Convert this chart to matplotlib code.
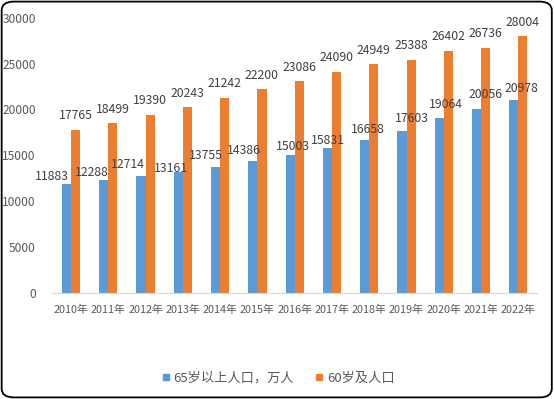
import numpy as np
import matplotlib
matplotlib.use('Agg')
import matplotlib.pyplot as plt
from matplotlib.patches import FancyBboxPatch
from matplotlib.lines import Line2D

plt.rcParams['font.family'] = ['Noto Sans CJK SC', 'DejaVu Sans']

#-- Data
years = ['2010年', '2011年', '2012年', '2013年', '2014年', '2015年', '2016年',
         '2017年', '2018年', '2019年', '2020年', '2021年', '2022年']
pop_65 = [11883, 12288, 12714, 13161, 13755, 14386, 15003,
          15831, 16658, 17603, 19064, 20056, 20978]
pop_60 = [17765, 18499, 19390, 20243, 21242, 22200, 23086,
          24090, 24949, 25388, 26402, 26736, 28004]
name_65 = '65岁以上人口，万人'
name_60 = '60岁及人口'

#-- label nudges (pixels) for the blue series, as in the original
lab_dx = [-15, -12, -13, -7, -10, -9, 3, 0, 3, 10, 7, 9, 8]
lab_dy = [7, 8, 12, 4, 11, 10, 9, 7, 11, 13, 13, 14, 12]

blue = '#5B9BD5'
orange = '#ED7D31'
grey = '#595959'

fig = plt.figure(figsize=(5.54, 3.99), dpi=100)
ax = fig.add_axes([0.0946, 0.2664, 0.8747, 0.6892])

x = np.arange(len(years))
w = 0.245
ax.bar(x - w / 2, pop_65, w, color=blue)
ax.bar(x + w / 2, pop_60, w, color=orange)

for i in range(len(years)):
    ax.annotate(str(pop_65[i]), xy=(x[i] - w / 2, pop_65[i]),
                xytext=(lab_dx[i], lab_dy[i]), textcoords='offset pixels',
                ha='center', va='center', fontsize=8.8, color='#404040')
    ax.annotate(str(pop_60[i]), xy=(x[i] + w / 2, pop_60[i]),
                xytext=(0, 14), textcoords='offset pixels',
                ha='center', va='center', fontsize=8.8, color='#404040')

ax.set_xlim(-0.5, len(years) - 0.5)
ax.set_ylim(0, 30000)
ax.set_yticks(range(0, 30001, 5000))
ax.set_xticks(x)
ax.set_xticklabels(years)
ax.tick_params(axis='both', length=0, colors=grey)
ax.tick_params(axis='y', labelsize=8.6, pad=12)
ax.tick_params(axis='x', labelsize=7.8, pad=9)
for s in ['top', 'right', 'left']:
    ax.spines[s].set_visible(False)
ax.spines['bottom'].set_color('#d9d9d9')

handles = [Line2D([], [], marker='s', linestyle='', color=blue, markersize=5),
           Line2D([], [], marker='s', linestyle='', color=orange, markersize=5)]
fig.legend(handles, [name_65, name_60], loc='center', bbox_to_anchor=(0.502, 0.053),
           ncol=2, frameon=False, fontsize=9.5, labelcolor=grey,
           handlelength=0.6, handletextpad=0.3, columnspacing=1.6)

#-- rounded frame round the whole picture
frame = FancyBboxPatch((0.003, 0.004), 0.993, 0.992,
                       boxstyle='round,pad=0,rounding_size=0.022',
                       transform=fig.transFigure, fill=False,
                       edgecolor='black', linewidth=1.3)
fig.patches.append(frame)

plt.savefig('out.png', dpi=100)
